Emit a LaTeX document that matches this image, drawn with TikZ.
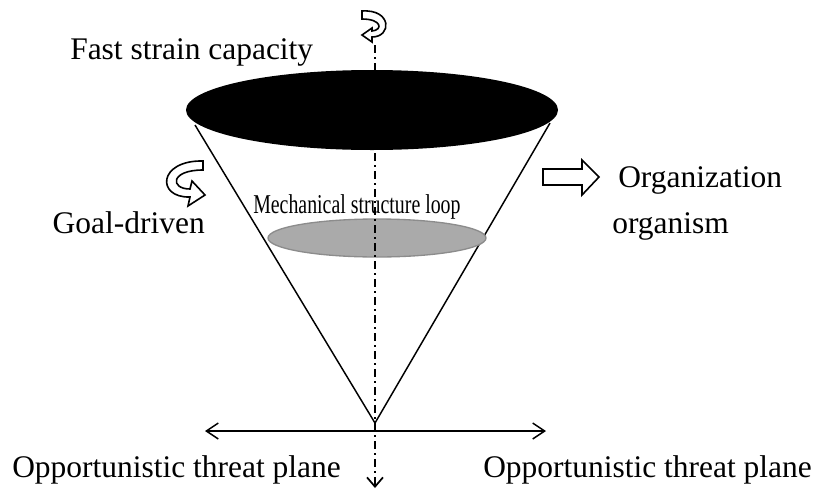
\documentclass[tikz,border=0pt]{standalone}
\usepackage{fontspec}
\setmainfont{Liberation Serif}
\usetikzlibrary{arrows.meta}
\tikzset{
  lbl/.style={inner sep=0pt, font=\fontsize{23.6}{28}\selectfont},
  cone/.style={line width=1.1pt, black},
  axis/.style={line width=1.5pt, dash pattern=on 6pt off 3pt on 1.5pt off 3pt, -{Straight Barb[length=7pt,width=12pt,line width=1.3pt]}},
  plane/.style={line width=1.1pt, {Straight Barb[length=9pt,width=12pt]}-{Straight Barb[length=9pt,width=12pt]}},
  hollow/.style={fill=white, draw=black, line width=1.2pt, line join=miter}
}
\begin{document}
\begin{tikzpicture}[x=0.75pt,y=-0.75pt]
\useasboundingbox (0,0) rectangle (826,490);
% key points
\coordinate (apex) at (375,423);
\coordinate (tl) at (195,125);
\coordinate (tr) at (550,123);
\coordinate (axtop) at (375,45);
\coordinate (axbot) at (375,488);
\coordinate (pl) at (205,431);
\coordinate (pr) at (546,431);
% cone
\draw[cone] (tl) -- (apex) -- (tr);
% top disk
\fill[black] (372,110) ellipse [x radius=186, y radius=40];
% middle loop
\filldraw[fill={rgb,255:red,170;green,170;blue,170}, draw={rgb,255:red,140;green,140;blue,140}, line width=1pt] (377,238) ellipse [x radius=109, y radius=19];
% axis
\draw[axis] (axtop) -- (axbot);
% plane arrow
\draw[plane] (pl) -- (pr);
% block arrow
\draw[hollow] (543,169) -- (582,169) -- (582,160) -- (599,177) -- (582,195) -- (582,185) -- (543,185) -- cycle;
% curved arrow near Goal-driven
\draw[hollow] (203,161) .. controls (158,160) and (156,198) .. (190,197)
  -- (188,206) -- (205,195) -- (192,181) -- (190,189)
  .. controls (170,189) and (170,170) .. (203,170) -- cycle;
% rotation symbol at the top
\draw[hollow] (362,11) .. controls (392,9) and (392,37) .. (372,37)
  -- (372,42) -- (362,35) -- (372,28) -- (372,31)
  .. controls (383,30) and (382,19) .. (362,19) -- cycle;
% labels
\node[lbl, anchor=base west] (fast) at (70,59) {Fast strain capacity};
\node[lbl, anchor=base east] (goal) at (205,233) {Goal-driven};
\node[lbl, anchor=base west] (org1) at (618,187) {Organization};
\node[lbl, anchor=base west] (org2) at (612,233) {organism};
\node[lbl, anchor=base west] (oppl) at (12,477) {Opportunistic threat plane};
\node[lbl, anchor=base west] (oppr) at (483,477) {Opportunistic threat plane};
\node[inner sep=0pt, anchor=base west, font=\fontsize{20.4}{24}\selectfont] (mech) at (253,213) {\scalebox{0.73}[1]{Mechanical structure loop}};
\end{tikzpicture}
\end{document}
